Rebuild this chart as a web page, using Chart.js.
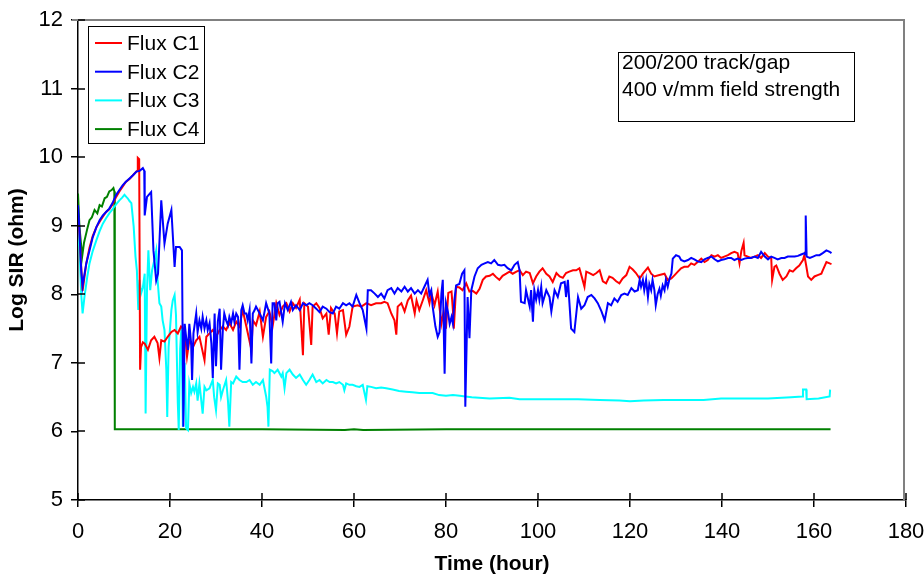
<!DOCTYPE html>
<html lang="en">
<head>
<meta charset="UTF-8">
<title>Log SIR vs Time</title>
<style>
    body { margin: 0; background: white; }
    #wrap { width: 924px; height: 579px; position: relative; }
</style>
</head>
<body>
<div id="wrap"><canvas id="sirChart"></canvas></div>
<script src="https://cdn.jsdelivr.net/npm/chart.js"></script>
<script>
const seriesNames = ['Flux C1', 'Flux C2', 'Flux C3', 'Flux C4'];
const seriesColors = ['#ff0000', '#0000ff', '#00ffff', '#008000'];
const xTicks = [0, 20, 40, 60, 80, 100, 120, 140, 160, 180];
const yTicks = [5, 6, 7, 8, 9, 10, 11, 12];
const noteLines = ['200/200 track/gap', '400 v/mm field strength'];
const xTitle = 'Time (hour)';
const yTitle = 'Log SIR (ohm)';

// [hour, log SIR]
const fluxC1 = [
    [0, 9.15], [0.3, 8.9], [0.7, 8.4], [1.0, 8.05], [1.3, 8.2], [1.8, 8.45], [2.5, 8.68], [3.2, 8.85],
    [4.0, 8.98], [4.8, 9.07], [5.4, 9.13], [6.1, 9.2], [6.8, 9.24], [7.5, 9.31], [8.3, 9.42], [9.0, 9.5],
    [9.7, 9.57], [10.4, 9.64], [11.2, 9.68], [12.0, 9.74], [12.7, 9.79], [12.9, 9.8], [13.0, 9.99], [13.3, 9.97],
    [13.5, 6.9], [13.7, 7.23], [14.1, 7.3], [14.5, 7.28], [15.2, 7.19], [15.9, 7.33], [16.6, 7.38], [17.3, 7.29],
    [17.7, 7.07], [18.1, 7.33], [18.8, 7.31], [19.5, 7.38], [20.3, 7.45], [21.0, 7.48], [21.7, 7.43], [22.4, 7.53],
    [23.2, 7.48], [23.7, 7.09], [24.2, 7.33], [25.0, 7.23], [25.7, 7.33], [26.4, 7.38], [27.5, 7.04], [27.9, 7.38],
    [28.6, 7.43], [29.3, 7.48], [30.0, 7.38], [30.8, 7.48], [31.5, 7.53], [32.2, 7.48], [32.9, 7.58], [33.7, 7.48],
    [34.4, 7.6], [35.1, 7.53], [35.8, 7.77], [36.6, 7.53], [37.7, 7.19], [38.0, 7.62], [38.7, 7.55], [39.5, 7.75],
    [40.2, 7.38], [40.9, 7.67], [41.6, 7.75], [42.3, 7.53], [43.1, 7.87], [43.8, 7.7], [44.5, 7.82], [45.3, 7.87],
    [46.0, 7.75], [46.7, 7.87], [47.4, 7.8], [48.2, 7.92], [48.9, 7.11], [49.2, 7.87], [50.0, 7.82], [50.7, 7.26],
    [51.0, 7.82], [51.8, 7.87], [52.5, 7.8], [53.2, 7.65], [54.0, 7.72], [54.5, 7.41], [55.0, 7.8], [55.8, 7.72],
    [56.3, 7.43], [56.8, 7.75], [57.6, 7.77], [58.3, 7.41], [59.0, 7.53], [59.7, 7.82], [60.8, 7.84], [61.6, 7.82],
    [62.7, 7.87], [63.7, 7.84], [64.8, 7.87], [65.9, 7.87], [66.6, 7.89], [67.3, 7.87], [68.1, 7.72], [68.8, 7.62],
    [69.2, 7.41], [69.5, 7.82], [70.3, 7.87], [71.0, 7.75], [71.7, 7.91], [72.4, 7.98], [73.2, 7.72], [73.6, 7.91],
    [74.2, 7.77], [75.0, 7.92], [75.7, 8.06], [76.4, 7.87], [76.8, 8.02], [77.5, 7.84], [78.2, 8.04], [79.0, 7.57],
    [79.5, 7.75], [80.0, 7.5], [80.5, 8.02], [81.2, 8.04], [81.5, 7.77], [81.7, 7.5], [82.2, 8.11], [82.9, 8.1],
    [83.6, 8.06], [84.4, 8.16], [85.1, 8.04], [85.8, 8.05], [86.6, 8.01], [87.3, 8.08], [88.0, 8.21], [88.7, 8.26],
    [89.5, 8.27], [90.2, 8.3], [90.9, 8.25], [91.6, 8.21], [92.3, 8.27], [93.1, 8.3], [93.8, 8.33], [94.5, 8.3],
    [95.3, 8.33], [96.0, 8.35], [96.7, 8.28], [97.4, 8.33], [98.2, 8.31], [98.9, 8.16], [99.6, 8.26], [100.3, 8.33],
    [101.0, 8.38], [101.8, 8.3], [102.5, 8.26], [103.2, 8.18], [104.0, 8.31], [104.7, 8.26], [105.4, 8.24], [106.1, 8.31],
    [106.8, 8.33], [107.6, 8.35], [108.3, 8.35], [109.0, 8.38], [109.7, 8.21], [110.1, 8.11], [110.5, 8.33], [111.2, 8.31],
    [112.0, 8.28], [112.7, 8.31], [113.4, 8.35], [114.1, 8.19], [114.8, 8.16], [115.5, 8.26], [116.2, 8.24], [117.0, 8.19],
    [117.7, 8.16], [118.4, 8.23], [119.2, 8.28], [119.9, 8.4], [120.6, 8.36], [121.3, 8.31], [122.1, 8.23], [122.8, 8.3],
    [123.9, 8.39], [124.6, 8.3], [125.3, 8.26], [126.4, 8.28], [127.5, 8.3], [128.2, 8.21], [129.0, 8.23], [129.7, 8.28],
    [130.4, 8.33], [131.1, 8.38], [131.8, 8.4], [132.6, 8.4], [133.3, 8.45], [134.0, 8.43], [134.7, 8.47], [135.5, 8.52],
    [136.2, 8.47], [136.9, 8.5], [137.7, 8.57], [138.4, 8.55], [139.1, 8.57], [139.8, 8.53], [140.5, 8.55], [141.3, 8.57],
    [142.0, 8.6], [142.7, 8.62], [143.4, 8.6], [143.8, 8.45], [144.2, 8.63], [144.7, 8.75], [144.9, 8.57], [145.6, 8.55],
    [146.3, 8.53], [147.1, 8.55], [147.8, 8.57], [148.5, 8.53], [149.3, 8.6], [150.0, 8.55], [150.7, 8.53], [150.9, 8.21],
    [151.4, 8.4], [151.8, 8.42], [152.5, 8.3], [153.2, 8.21], [154.0, 8.26], [154.7, 8.35], [155.4, 8.33], [156.1, 8.38],
    [156.8, 8.42], [157.6, 8.5], [157.9, 8.57], [158.3, 8.42], [158.7, 8.26], [159.4, 8.21], [160.1, 8.26], [160.8, 8.28],
    [161.6, 8.3], [161.9, 8.35], [162.7, 8.47], [163.4, 8.45], [163.8, 8.44]
];

const fluxC2 = [
    [0, 9.3], [0.3, 8.95], [0.7, 8.35], [1.0, 8.12], [1.3, 8.25], [1.8, 8.45], [2.5, 8.64], [3.2, 8.83],
    [4.0, 8.98], [4.7, 9.08], [5.4, 9.15], [6.1, 9.2], [6.8, 9.25], [7.5, 9.33], [8.3, 9.45], [9.0, 9.52],
    [9.7, 9.59], [10.4, 9.64], [11.2, 9.69], [12.0, 9.74], [12.7, 9.79], [13.4, 9.8], [14.1, 9.84], [14.4, 9.8],
    [14.5, 9.15], [15.0, 9.42], [15.9, 9.49], [16.4, 8.64], [17.0, 8.2], [17.4, 8.3], [18.1, 9.37], [18.8, 8.74],
    [19.5, 9.03], [20.3, 9.23], [21.0, 8.4], [21.3, 8.69], [22.1, 8.69], [22.6, 8.64], [22.9, 6.07], [23.2, 7.57],
    [23.5, 7.38], [23.9, 7.19], [24.2, 7.57], [24.6, 7.28], [24.8, 6.75], [25.1, 7.43], [25.7, 7.72], [26.0, 7.45],
    [26.4, 7.62], [26.8, 7.5], [27.1, 7.67], [27.5, 7.5], [27.9, 7.62], [28.2, 7.48], [28.6, 7.58], [29.0, 7.28],
    [29.3, 6.78], [29.7, 7.72], [30.0, 6.95], [30.4, 7.6], [30.8, 7.79], [31.1, 6.9], [31.5, 7.5], [31.8, 7.72],
    [32.2, 7.62], [32.6, 7.55], [32.9, 7.67], [33.3, 7.58], [33.7, 7.72], [34.0, 7.6], [34.4, 7.72], [34.8, 7.67],
    [35.1, 6.9], [35.5, 7.77], [35.8, 7.84], [36.2, 7.72], [36.6, 7.72], [36.9, 7.62], [37.3, 7.77], [37.7, 6.99],
    [38.0, 7.72], [38.4, 7.77], [38.7, 7.82], [39.1, 7.77], [39.5, 7.72], [40.2, 7.62], [40.9, 7.87], [41.6, 7.72],
    [42.0, 6.99], [42.3, 7.87], [42.7, 7.87], [43.1, 7.62], [43.4, 7.87], [43.8, 7.89], [44.5, 7.6], [45.0, 7.87],
    [45.6, 7.77], [46.3, 7.89], [46.7, 7.77], [47.4, 7.84], [48.2, 7.77], [48.9, 7.87], [49.6, 7.84], [50.3, 7.87],
    [51.0, 7.84], [51.8, 7.79], [52.5, 7.74], [53.2, 7.82], [54.0, 7.79], [54.7, 7.74], [55.4, 7.72], [56.1, 7.82],
    [56.8, 7.79], [57.6, 7.87], [58.3, 7.84], [59.0, 7.87], [59.7, 7.82], [60.5, 7.99], [61.2, 7.87], [61.9, 7.77],
    [62.7, 7.5], [63.0, 8.06], [63.7, 8.06], [64.5, 8.01], [65.2, 7.96], [65.9, 8.01], [66.6, 7.94], [67.3, 8.06],
    [68.1, 8.09], [68.8, 8.01], [69.5, 8.09], [70.3, 8.04], [71.0, 8.11], [71.7, 8.04], [72.4, 8.09], [73.2, 8.01],
    [73.9, 8.06], [74.6, 8.01], [75.3, 8.11], [76.0, 8.21], [76.4, 7.99], [76.8, 8.06], [77.1, 7.82], [77.7, 7.53],
    [78.2, 7.38], [78.6, 7.45], [79.0, 8.01], [79.3, 8.21], [79.7, 6.84], [80.0, 7.87], [80.4, 7.75], [80.8, 7.57],
    [81.2, 7.67], [81.5, 7.57], [81.8, 7.9], [82.2, 8.13], [82.9, 8.15], [83.5, 8.3], [84.0, 8.35], [84.2, 6.36],
    [84.7, 7.96], [85.1, 7.36], [85.5, 8.06], [86.2, 8.26], [86.9, 8.38], [87.7, 8.43], [88.4, 8.45], [89.1, 8.47],
    [89.8, 8.45], [90.5, 8.5], [91.3, 8.43], [92.0, 8.42], [92.7, 8.43], [93.4, 8.38], [94.2, 8.35], [94.9, 8.43],
    [95.6, 8.47], [96.0, 8.35], [96.3, 7.89], [97.1, 7.87], [97.4, 8.06], [98.2, 7.82], [98.5, 8.06], [98.9, 7.6],
    [99.2, 8.06], [99.6, 7.92], [100.0, 8.06], [100.3, 7.92], [100.7, 8.11], [101.0, 7.87], [101.8, 8.06], [102.5, 7.96],
    [102.9, 7.75], [103.6, 8.06], [104.3, 7.96], [105.0, 8.16], [105.8, 8.18], [106.1, 7.96], [106.5, 8.21], [107.2, 7.5],
    [107.9, 7.45], [108.7, 7.96], [109.4, 7.79], [110.1, 7.84], [110.8, 7.96], [111.6, 7.99], [112.3, 7.94], [113.0, 7.87],
    [113.8, 7.75], [114.5, 7.62], [115.2, 7.87], [115.9, 7.84], [116.6, 7.94], [117.3, 7.89], [118.1, 7.99], [118.8, 8.01],
    [119.5, 7.99], [120.3, 8.09], [121.0, 8.04], [121.7, 8.06], [122.1, 8.21], [122.4, 8.11], [122.8, 8.21], [123.1, 8.06],
    [123.5, 8.21], [123.9, 7.96], [124.2, 8.15], [124.6, 8.06], [124.9, 8.21], [125.3, 8.06], [125.6, 7.84], [126.0, 8.0],
    [126.4, 8.08], [126.7, 7.98], [127.1, 8.13], [127.5, 8.06], [127.8, 8.21], [128.2, 8.11], [128.6, 8.23], [129.0, 8.3],
    [129.3, 8.52], [130.0, 8.57], [130.7, 8.55], [131.1, 8.5], [131.8, 8.48], [132.6, 8.5], [133.3, 8.53], [134.0, 8.51],
    [134.7, 8.48], [135.5, 8.47], [136.2, 8.51], [136.9, 8.53], [137.7, 8.55], [138.4, 8.51], [139.1, 8.48], [139.8, 8.5],
    [140.5, 8.51], [141.3, 8.53], [142.0, 8.53], [142.7, 8.5], [143.4, 8.52], [144.2, 8.5], [144.9, 8.52], [145.6, 8.53],
    [146.3, 8.53], [147.1, 8.55], [147.8, 8.53], [148.5, 8.62], [149.3, 8.55], [150.0, 8.51], [150.7, 8.55], [151.4, 8.53],
    [152.1, 8.51], [152.9, 8.53], [153.6, 8.53], [154.3, 8.55], [155.0, 8.55], [155.8, 8.55], [156.5, 8.56], [157.2, 8.58],
    [157.9, 8.6], [158.1, 8.58], [158.2, 9.15], [158.4, 8.55], [159.1, 8.53], [159.8, 8.55], [160.5, 8.57], [161.2, 8.57],
    [161.9, 8.6], [162.7, 8.64], [163.4, 8.62], [163.8, 8.6]
];

const fluxC3 = [
    [0, 9.05], [0.3, 8.7], [0.7, 8.0], [1.0, 7.72], [1.4, 7.96], [2.0, 8.25], [2.5, 8.45], [3.2, 8.63],
    [4.0, 8.79], [4.7, 8.92], [5.4, 9.03], [6.1, 9.11], [6.8, 9.18], [7.4, 9.23], [7.9, 9.28], [8.5, 9.33],
    [9.0, 9.37], [9.6, 9.41], [10.1, 9.45], [10.5, 9.42], [10.8, 9.4], [11.2, 9.36], [11.6, 9.33], [12.1, 8.99],
    [12.5, 8.55], [12.8, 8.35], [13.1, 7.77], [13.4, 8.21], [13.7, 8.01], [14.1, 8.1], [14.5, 8.3], [14.7, 6.26],
    [15.0, 8.06], [15.3, 8.64], [15.7, 8.06], [16.1, 8.35], [16.6, 8.5], [17.0, 8.64], [17.3, 8.21], [17.7, 7.87],
    [18.1, 7.82], [18.4, 7.62], [18.8, 7.48], [19.2, 6.9], [19.4, 6.21], [19.7, 7.23], [20.3, 7.77], [20.6, 7.91],
    [21.0, 7.99], [21.3, 7.7], [21.7, 6.41], [21.9, 6.02], [22.2, 7.2], [22.5, 7.53], [22.8, 6.07], [23.2, 7.0],
    [23.5, 6.05], [23.9, 6.02], [24.2, 6.7], [24.6, 6.56], [25.0, 6.65], [25.3, 6.58], [25.7, 6.7], [26.0, 6.45],
    [26.4, 6.7], [27.1, 6.26], [27.5, 6.65], [27.9, 6.6], [28.6, 6.63], [29.3, 6.75], [29.6, 6.5], [30.0, 6.31],
    [30.4, 6.7], [30.8, 6.68], [31.1, 6.5], [31.5, 6.6], [32.2, 6.75], [32.6, 6.45], [32.9, 6.07], [33.3, 6.72],
    [33.7, 6.7], [34.4, 6.8], [35.1, 6.75], [35.8, 6.72], [36.6, 6.72], [37.3, 6.75], [38.0, 6.68], [38.7, 6.72],
    [39.5, 6.68], [40.2, 6.75], [40.9, 6.51], [41.2, 6.36], [41.4, 6.07], [41.7, 6.9], [42.3, 6.88], [42.7, 6.85],
    [43.4, 6.9], [44.2, 6.8], [44.5, 6.85], [44.9, 6.63], [45.3, 6.85], [46.0, 6.9], [46.7, 6.83], [47.4, 6.78],
    [48.2, 6.83], [48.9, 6.75], [49.6, 6.68], [50.3, 6.75], [51.0, 6.83], [51.8, 6.72], [52.5, 6.75], [53.2, 6.7],
    [54.0, 6.75], [54.7, 6.72], [55.4, 6.72], [56.1, 6.7], [56.8, 6.72], [57.6, 6.68], [57.9, 6.6], [58.3, 6.7],
    [59.0, 6.68], [59.7, 6.68], [60.5, 6.66], [61.2, 6.65], [61.9, 6.68], [62.6, 6.46], [62.9, 6.66], [63.7, 6.65],
    [64.8, 6.63], [65.9, 6.64], [67.0, 6.63], [68.4, 6.61], [69.8, 6.59], [71.3, 6.58], [72.7, 6.57], [74.2, 6.56],
    [75.6, 6.56], [77.1, 6.56], [78.5, 6.53], [80.0, 6.52], [81.5, 6.53], [83.0, 6.52], [84.2, 6.51], [85.6, 6.5],
    [89.5, 6.48], [93.8, 6.49], [96.0, 6.47], [100.0, 6.47], [104.7, 6.47], [108.7, 6.47], [113.4, 6.46], [117.7, 6.45],
    [120.0, 6.44], [123.0, 6.45], [127.3, 6.46], [132.5, 6.46], [136.0, 6.46], [139.8, 6.48], [145.0, 6.48], [150.0, 6.48],
    [155.0, 6.5], [157.5, 6.51], [157.6, 6.61], [158.3, 6.61], [158.4, 6.47], [161.0, 6.48], [163.4, 6.51], [163.5, 6.61]
];

const fluxC4 = [
    [0, 9.47], [0.3, 9.0], [0.9, 8.55], [1.3, 8.75], [2.0, 8.95], [2.5, 9.08], [3.0, 9.12], [3.6, 9.23],
    [4.2, 9.18], [4.7, 9.3], [5.2, 9.28], [5.8, 9.4], [6.3, 9.42], [6.8, 9.5], [7.3, 9.52], [7.7, 9.55],
    [7.9, 9.5], [8.0, 6.03], [20, 6.03], [40, 6.03], [58, 6.02], [60, 6.03], [62, 6.02], [80, 6.03],
    [100, 6.03], [120, 6.03], [140, 6.03], [163.6, 6.03]
];

const allSeries = [fluxC1, fluxC2, fluxC3, fluxC4];
const drawOrder = [1, 0, 2, 3];

const FONT = "'Liberation Sans', Arial, sans-serif";
Chart.defaults.font.family = FONT;
Chart.defaults.color = '#000';

// top/right frame, inner halves of ticks, legend box and note box
const decorPlugin = {
    id: 'decor',
    afterDraw(chart) {
        const { ctx, chartArea: a, scales } = chart;
        const xs = scales.x, ys = scales.y;
        ctx.save();
        ctx.strokeStyle = '#808080';
        ctx.lineWidth = 2;
        ctx.beginPath();
        ctx.moveTo(a.left - 6, a.top);
        ctx.lineTo(a.right - 2, a.top);
        ctx.lineTo(a.right - 2, a.bottom);
        ctx.stroke();

        ctx.strokeStyle = '#000';
        ctx.lineWidth = 1.5;
        ctx.beginPath();
        ys.ticks.forEach(t => {
            const py = Math.round(ys.getPixelForValue(t.value));
            ctx.moveTo(a.left, py);
            ctx.lineTo(a.left + 7, py);
        });
        xs.ticks.forEach(t => {
            const px = Math.round(xs.getPixelForValue(t.value));
            ctx.moveTo(px, a.bottom);
            ctx.lineTo(px, a.bottom - 7);
        });
        ctx.stroke();

        // legend
        const lx = a.left + 10, ly = a.top + 6;
        ctx.fillStyle = '#fff';
        ctx.fillRect(lx, ly, 116, 117);
        ctx.strokeStyle = '#000';
        ctx.lineWidth = 1;
        ctx.strokeRect(lx + 0.5, ly + 0.5, 116, 117);
        ctx.font = '21px ' + FONT;
        ctx.textBaseline = 'alphabetic';
        ctx.textAlign = 'left';
        seriesNames.forEach((name, i) => {
            const base = ly + 24 + i * 28.7;
            ctx.strokeStyle = seriesColors[i];
            ctx.lineWidth = 2;
            ctx.beginPath();
            ctx.moveTo(lx + 7, base - 7);
            ctx.lineTo(lx + 34, base - 7);
            ctx.stroke();
            ctx.fillStyle = '#000';
            ctx.fillText(name, lx + 39, base);
        });

        // note box
        const nx = 618, ny = 52;
        ctx.fillStyle = '#fff';
        ctx.fillRect(nx, ny, 236, 69);
        ctx.strokeStyle = '#000';
        ctx.lineWidth = 1;
        ctx.strokeRect(nx + 0.5, ny + 0.5, 236, 69);
        ctx.fillStyle = '#000';
        ctx.font = '21px ' + FONT;
        noteLines.forEach((txt, i) => ctx.fillText(txt, nx + 4, ny + 17 + i * 27.4));
        ctx.restore();
    }
};

const datasets = allSeries.map((pts, i) => ({
    label: seriesNames[i],
    data: pts.map(p => ({ x: p[0], y: p[1] })),
    borderColor: seriesColors[i],
    backgroundColor: seriesColors[i],
    borderWidth: 2,
    pointRadius: 0,
    tension: 0,
    fill: false,
    order: drawOrder[i]
}));

new Chart(document.getElementById('sirChart'), {
    type: 'line',
    data: { datasets },
    options: {
        responsive: true,
        maintainAspectRatio: false,
        animation: false,
        layout: { padding: { top: 20, right: 18, left: 0, bottom: 0 } },
        plugins: {
            legend: { display: false },
            tooltip: { enabled: false }
        },
        scales: {
            x: {
                type: 'linear',
                min: 0,
                max: 180,
                afterBuildTicks: s => { s.ticks = xTicks.map(v => ({ value: v })); },
                afterFit: s => { s.height = 79; s.paddingLeft = 0; s.paddingRight = 0; },
                grid: { drawOnChartArea: false, tickLength: 7, color: '#000', lineWidth: 1.5 },
                border: { color: '#000', width: 1.5 },
                ticks: { font: { size: 22 }, padding: 12, maxRotation: 0 },
                title: { display: true, text: xTitle, font: { size: 21, weight: 'bold' }, padding: { top: 0, bottom: 2 } }
            },
            y: {
                min: 5,
                max: 12,
                afterBuildTicks: s => { s.ticks = yTicks.map(v => ({ value: v })); },
                afterFit: s => { s.width = 78; s.paddingTop = 0; s.paddingBottom = 0; },
                grid: { drawOnChartArea: false, tickLength: 7, color: '#000', lineWidth: 1.5 },
                border: { color: '#000', width: 1.5 },
                ticks: { font: { size: 22 }, padding: 8 },
                title: { display: true, text: yTitle, font: { size: 21, weight: 'bold' }, padding: { top: 5, bottom: 0 } }
            }
        }
    },
    plugins: [decorPlugin]
});
</script>
</body>
</html>
